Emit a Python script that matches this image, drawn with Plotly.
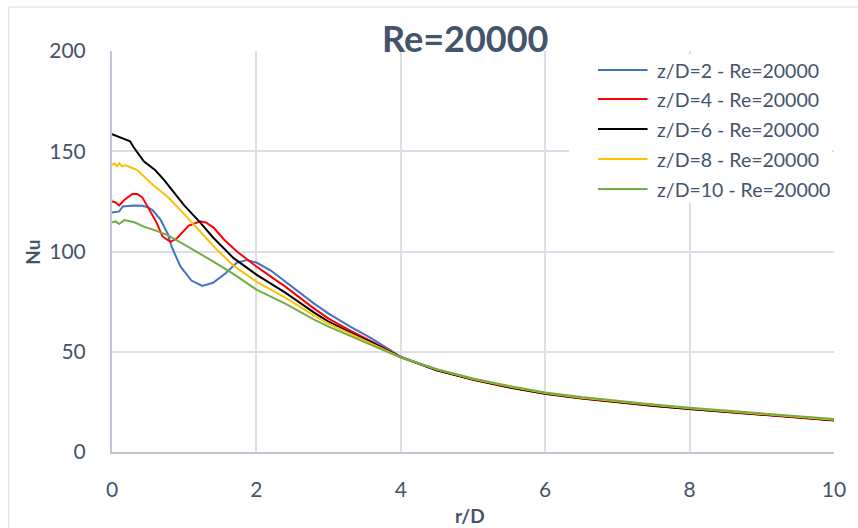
import plotly.graph_objects as go

# ---------------- data ----------------
x_zd2 = [0, 0.1, 0.15, 0.2, 0.3, 0.42, 0.5, 0.56, 0.67, 0.77, 0.83, 0.95, 1.1, 1.25, 1.4, 1.57,
         1.73, 1.87, 2.0, 2.2, 2.4, 2.6, 2.8, 3.0, 3.3, 3.6, 4.0,
         4.5, 5.0, 5.5, 6.0, 6.5, 7.0, 7.5, 8.0, 8.5, 9.0, 9.5, 10.0]
y_zd2 = [119.5, 120, 122.5, 122.7, 123, 122.8, 122, 120.7, 116, 109, 102, 92.4, 85.5, 82.8, 84.4, 89,
         94.5, 95.8, 94.5, 90.5, 85, 79.5, 74, 69, 62.5, 56.5, 47.5,
         41.0, 36.3, 32.5, 29.3, 27.0, 25.0, 23.3, 21.7, 20.3, 19.0, 17.5, 16.0]

x_zd4 = [0, 0.05, 0.1, 0.17, 0.28, 0.35, 0.42, 0.51, 0.61, 0.7, 0.81, 0.9, 1.06, 1.22, 1.3, 1.41,
         1.55, 1.73, 2.0, 2.2, 2.4, 2.6, 2.8, 3.0, 3.3, 3.6, 4.0,
         4.5, 5.0, 5.5, 6.0, 6.5, 7.0, 7.5, 8.0, 8.5, 9.0, 9.5, 10.0]
y_zd4 = [125, 124.5, 123, 125.7, 128.7, 128.7, 127, 121.5, 114.9, 107.5, 104.8, 106.6, 112.8, 115.1, 114.5, 111.8,
         106, 100, 92.5, 87.5, 82.5, 77, 71.5, 66.5, 60.5, 55, 47.3,
         40.7, 36.0, 32.2, 29.0, 26.7, 24.7, 23.0, 21.4, 20.0, 18.7, 17.2, 15.7]

x_zd6 = [0, 0.25, 0.3, 0.44, 0.52, 0.6, 0.72, 0.81, 1.0, 1.22, 1.4, 1.68, 2.0, 2.2, 2.4, 2.6, 2.8, 3.0, 3.3, 3.6, 4.0,
         4.5, 5.0, 5.5, 6.0, 6.5, 7.0, 7.5, 8.0, 8.5, 9.0, 9.5, 10.0]
y_zd6 = [158.5, 155, 152, 145, 142.8, 140.5, 135.7, 131.7, 123, 114.5, 107, 96.8, 88.5, 84, 79.5, 74.5, 69.5, 65, 59.5, 54.5, 47.2,
         40.8, 36.1, 32.3, 29.1, 26.8, 24.8, 23.1, 21.5, 20.1, 18.8, 17.3, 15.8]

x_zd8 = [0, 0.03, 0.07, 0.1, 0.14, 0.18, 0.22, 0.35, 0.54, 0.77, 0.99, 1.22, 1.45, 1.68, 2.0, 2.2, 2.4, 2.6, 2.8, 3.0,
         3.3, 3.6, 4.0, 4.5, 5.0, 5.5, 6.0, 6.5, 7.0, 7.5, 8.0, 8.5, 9.0, 9.5, 10.0]
y_zd8 = [143, 144, 142.5, 144, 142.5, 143, 142.5, 140.6, 134, 127.3, 119, 110, 101, 93, 85, 81, 77, 72.5, 68, 64,
         59, 54, 47.2, 41.1, 36.4, 32.6, 29.4, 27.1, 25.1, 23.4, 21.8, 20.4, 19.1, 17.6, 16.1]

x_zd10 = [0, 0.05, 0.1, 0.17, 0.31, 0.44, 0.58, 0.77, 0.99, 1.22, 1.45, 1.68, 2.0, 2.2, 2.4, 2.6, 2.8, 3.0, 3.3, 3.6, 4.0,
          4.5, 5.0, 5.5, 6.0, 6.5, 7.0, 7.5, 8.0, 8.5, 9.0, 9.5, 10.0]
y_zd10 = [114.6, 115, 113.7, 115.7, 114.6, 112.4, 110.8, 108.2, 103.7, 99, 94, 88.8, 81, 77.5, 74, 70, 66, 62.5, 58, 53.5, 47.1,
          41.3, 36.7, 32.9, 29.7, 27.4, 25.4, 23.7, 22.1, 20.7, 19.4, 17.9, 16.4]

series_names = ["z/D=2 - Re=20000", "z/D=4 - Re=20000", "z/D=6 - Re=20000",
                "z/D=8 - Re=20000", "z/D=10 - Re=20000"]
series_x = [x_zd2, x_zd4, x_zd6, x_zd8, x_zd10]
series_y = [y_zd2, y_zd4, y_zd6, y_zd8, y_zd10]
colors = ["#4472C4", "#FF0000", "#000000", "#FFC000", "#70AD47"]

x_ticks = [0, 2, 4, 6, 8, 10]
y_ticks = [0, 50, 100, 150, 200]

# ---------------- layout helpers ----------------
W, H = 858, 528
L, R, T, B = 112, 840, 51, 452
TXT = "#44546A"
FONT = "Lato"


def px(xp):
    return (xp - L) / (R - L)


def py(yp):
    return (B - yp) / (B - T)


fig = go.Figure()
for xs, ys, nm, c in zip(series_x, series_y, series_names, colors):
    fig.add_trace(go.Scatter(x=xs, y=ys, mode="lines", name=nm,
                             line=dict(color=c, width=2), showlegend=False))

shapes = []
annotations = []

# outer chart border
shapes.append(dict(type="rect", xref="paper", yref="paper",
                   x0=px(8), x1=px(880), y0=py(545), y1=py(7),
                   line=dict(color="#D9D9D9", width=1), layer="below"))

# legend background
shapes.append(dict(type="rect", xref="paper", yref="paper",
                   x0=px(573), x1=px(838), y0=py(203), y1=py(54),
                   fillcolor="white", line=dict(width=0), layer="above"))

leg_y = [70, 99, 129, 159, 189]
for yy, nm, c in zip(leg_y, series_names, colors):
    shapes.append(dict(type="line", xref="paper", yref="paper",
                       x0=px(602), x1=px(652), y0=py(yy), y1=py(yy),
                       line=dict(color=c, width=2), layer="above"))
    annotations.append(dict(xref="paper", yref="paper", x=px(660), y=py(yy),
                            text=nm, showarrow=False, xanchor="left", yanchor="middle",
                            font=dict(family=FONT, size=19.5, color=TXT)))

# title
annotations.append(dict(xref="paper", yref="paper", x=px(468), y=py(38),
                        text="<b>Re=20000</b>", showarrow=False,
                        xanchor="center", yanchor="middle",
                        font=dict(family=FONT, size=36, color=TXT)))
# axis titles
annotations.append(dict(xref="paper", yref="paper", x=px(473), y=py(515),
                        text="<b>r/D</b>", showarrow=False, xanchor="center", yanchor="middle",
                        font=dict(family=FONT, size=19, color=TXT)))
annotations.append(dict(xref="paper", yref="paper", x=px(31), y=py(252),
                        text="<b>Nu</b>", showarrow=False, textangle=-90,
                        xanchor="center", yanchor="middle",
                        font=dict(family=FONT, size=19, color=TXT)))

fig.update_layout(
    width=W, height=H,
    margin=dict(l=L, r=W - R, t=T, b=H - B),
    paper_bgcolor="white", plot_bgcolor="white",
    shapes=shapes, annotations=annotations,
    showlegend=False,
)
fig.update_xaxes(range=[0, 10], tickvals=x_ticks, ticktext=[str(v) for v in x_ticks],
                 showgrid=True, gridcolor="#D9DEE7", gridwidth=2,
                 showline=True, linecolor="#BCC6D6", linewidth=2, mirror=False,
                 zeroline=False, ticks="", ticklabelstandoff=18,
                 tickfont=dict(family=FONT, size=21, color=TXT))
fig.update_yaxes(range=[0, 200], tickvals=y_ticks, ticktext=[str(v) for v in y_ticks],
                 showgrid=True, gridcolor="#D9DEE7", gridwidth=2,
                 showline=True, linecolor="#BCC6D6", linewidth=2, mirror=False,
                 zeroline=False, ticks="", ticklabelstandoff=20,
                 tickfont=dict(family=FONT, size=21, color=TXT))

fig.write_html("out.html")
